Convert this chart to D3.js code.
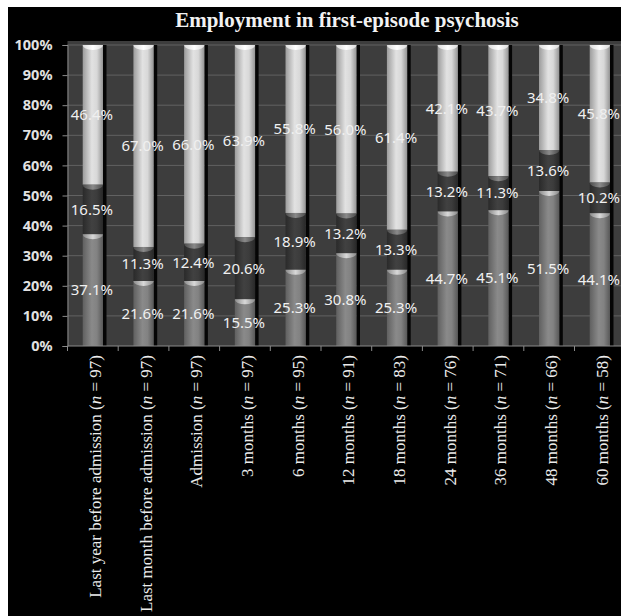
<!DOCTYPE html>
<html>
<head>
<meta charset="utf-8">
<script src="https://cdn.jsdelivr.net/npm/d3@7"></script>
<style>
  body { margin: 0; background: #fff; }
  svg { display: block; }
</style>
</head>
<body>
<div id="chart"></div>
<script>
// Data (percent of patients at each time point)
const categories = [
  "Last year before admission",
  "Last month before admission",
  "Admission",
  "3 months",
  "6 months",
  "12 months",
  "18 months",
  "24 months",
  "36 months",
  "48 months",
  "60 months",
];
const nValues = [97, 97, 97, 97, 95, 91, 83, 76, 71, 66, 58];
const lowerSeries = [37.1, 21.6, 21.6, 15.5, 25.3, 30.8, 25.3, 44.7, 45.1, 51.5, 44.1];
const middleSeries = [16.5, 11.3, 12.4, 20.6, 18.9, 13.2, 13.3, 13.2, 11.3, 13.6, 10.2];
const upperSeries = [46.4, 67.0, 66.0, 63.9, 55.8, 56.0, 61.4, 42.1, 43.7, 34.8, 45.8];
const yTicks = [0, 10, 20, 30, 40, 50, 60, 70, 80, 90, 100];
const title = "Employment in first-episode psychosis";

const width = 621;
const height = 616;
const plot = { left: 67.5, top: 41, bottom: 346, step: 50.7 };

const svg = d3
  .select("#chart")
  .append("svg")
  .attr("width", width)
  .attr("height", height);

// black figure panel (small white margin top/left like the scan)
svg.append("rect").attr("x", 8).attr("y", 7).attr("width", width).attr("height", height).attr("fill", "#000");

const x = d3
  .scaleBand()
  .domain(categories)
  .range([plot.left, plot.left + plot.step * categories.length])
  .padding(0);

const y = d3.scaleLinear().domain([0, 100]).range([plot.bottom, 45]);

// plot background
svg
  .append("rect")
  .attr("x", plot.left)
  .attr("y", plot.top)
  .attr("width", x.range()[1] - plot.left)
  .attr("height", plot.bottom - plot.top)
  .attr("fill", "#3d3d3d");

// gridlines
svg
  .append("g")
  .selectAll("line")
  .data(yTicks.slice(1))
  .enter()
  .append("line")
  .attr("x1", plot.left)
  .attr("x2", x.range()[1])
  .attr("y1", (d) => y(d))
  .attr("y2", (d) => y(d))
  .attr("stroke", "#626262")
  .attr("stroke-width", 1);

// gradients for the cylinder segments
const defs = svg.append("defs");
function cylGrad(id, stops) {
  const g = defs.append("linearGradient").attr("id", id).attr("x1", "0%").attr("x2", "100%");
  stops.forEach(([o, c]) => g.append("stop").attr("offset", o).attr("stop-color", c));
}
cylGrad("gLower", [["0%", "#606060"], ["45%", "#8a8a8a"], ["70%", "#828282"], ["100%", "#585858"]]);
cylGrad("gMiddle", [["0%", "#2a2a2a"], ["45%", "#414141"], ["70%", "#3c3c3c"], ["100%", "#282828"]]);
cylGrad("gUpper", [["0%", "#9c9c9c"], ["45%", "#e2e2e2"], ["70%", "#d8d8d8"], ["100%", "#949494"]]);
cylGrad("gCapLower", [["0%", "#8a8a8a"], ["50%", "#d8d8d8"], ["100%", "#8a8a8a"]]);
cylGrad("gCapMiddle", [["0%", "#4a4a4a"], ["50%", "#8a8a8a"], ["100%", "#4a4a4a"]]);
cylGrad("gCapUpper", [["0%", "#dcdcdc"], ["50%", "#ffffff"], ["100%", "#dcdcdc"]]);

const stackData = categories.map((c, i) => ({
  category: c,
  segs: [
    { key: "Lower", y0: 0, y1: lowerSeries[i], v: lowerSeries[i] },
    { key: "Middle", y0: lowerSeries[i], y1: lowerSeries[i] + middleSeries[i], v: middleSeries[i] },
    { key: "Upper", y0: lowerSeries[i] + middleSeries[i], y1: 100, v: upperSeries[i] },
  ],
}));

const bw = x.bandwidth() * 0.4;
const bx = (c) => x(c) + x.bandwidth() * 0.3;
const ry = 5;

const bars = svg
  .append("g")
  .selectAll(".bar")
  .data(stackData)
  .enter()
  .append("g")
  .attr("class", "bar");

// black shadow on the right side of each cylinder
bars
  .append("rect")
  .attr("x", (d) => bx(d.category) + bw)
  .attr("y", y(100))
  .attr("width", 3.5)
  .attr("height", y(0) - y(100))
  .attr("fill", "#050505");

bars.each(function (d) {
  const g = d3.select(this);
  d.segs.forEach((s) => {
    g.append("rect")
      .attr("x", bx(d.category))
      .attr("y", y(s.y1))
      .attr("width", bw)
      .attr("height", y(s.y0) - y(s.y1))
      .attr("fill", `url(#g${s.key})`);
  });
  // caps (lower half of ellipse) at each segment top
  d.segs.forEach((s) => {
    const cx = bx(d.category);
    const cy = y(s.y1);
    g.append("path")
      .attr("d", `M${cx},${cy} A${bw / 2},${ry} 0 0 0 ${cx + bw},${cy} Z`)
      .attr("fill", `url(#gCap${s.key})`);
  });
});

// value labels
bars
  .selectAll(".val")
  .data((d) => d.segs.map((s) => ({ ...s, category: d.category })))
  .enter()
  .append("text")
  .attr("x", (d) => x(d.category) + x.bandwidth() / 2 - 1)
  .attr("y", (d) => y((d.y0 + d.y1) / 2))
  .attr("dy", "0.35em")
  .attr("text-anchor", "middle")
  .style("font-family", "'Noto Sans', sans-serif")
  .style("font-size", "15px")
  .attr("fill", "#f0f0f0")
  .text((d) => d.v.toFixed(1) + "%");

// y axis
const yAxis = svg
  .append("g")
  .attr("transform", `translate(${plot.left},0)`)
  .call(d3.axisLeft(y).tickValues(yTicks).tickFormat((d) => d + "%").tickSize(5).tickPadding(10));
yAxis.select(".domain").attr("stroke", "#8a8a8a");
yAxis.selectAll(".tick line").attr("stroke", "#8a8a8a");
yAxis
  .selectAll("text")
  .attr("fill", "#e2e2e2")
  .style("font-family", "'Noto Sans', sans-serif")
  .style("font-size", "14.5px")
  .style("font-weight", "bold");

// x axis line and boundary ticks
svg
  .append("line")
  .attr("x1", plot.left)
  .attr("x2", x.range()[1])
  .attr("y1", plot.bottom)
  .attr("y2", plot.bottom)
  .attr("stroke", "#8a8a8a");
svg
  .append("g")
  .selectAll("line")
  .data(categories)
  .enter()
  .append("line")
  .attr("x1", (d) => x(d))
  .attr("x2", (d) => x(d))
  .attr("y1", plot.bottom)
  .attr("y2", plot.bottom + 5)
  .attr("stroke", "#8a8a8a");

// rotated category labels
const xl = svg
  .append("g")
  .selectAll("text")
  .data(categories)
  .enter()
  .append("text")
  .attr("transform", (d) => `translate(${x(d) + x.bandwidth() / 2 + 2},355) rotate(-90)`)
  .attr("dy", "0.35em")
  .attr("text-anchor", "end")
  .style("font-family", "'Liberation Serif', 'Times New Roman', serif")
  .style("font-size", "17px")
  .attr("fill", "#ececec");
xl.append("tspan").text((d) => d + " (");
xl.append("tspan").style("font-style", "italic").text("n");
xl.append("tspan").text((d, i) => " = " + nValues[i] + ")");

// title
svg
  .append("text")
  .attr("x", 347)
  .attr("y", 27)
  .attr("text-anchor", "middle")
  .style("font-family", "'Liberation Serif', 'Times New Roman', serif")
  .style("font-size", "21px")
  .style("font-weight", "bold")
  .attr("fill", "#f2f2f2")
  .text(title);
</script>
</body>
</html>
